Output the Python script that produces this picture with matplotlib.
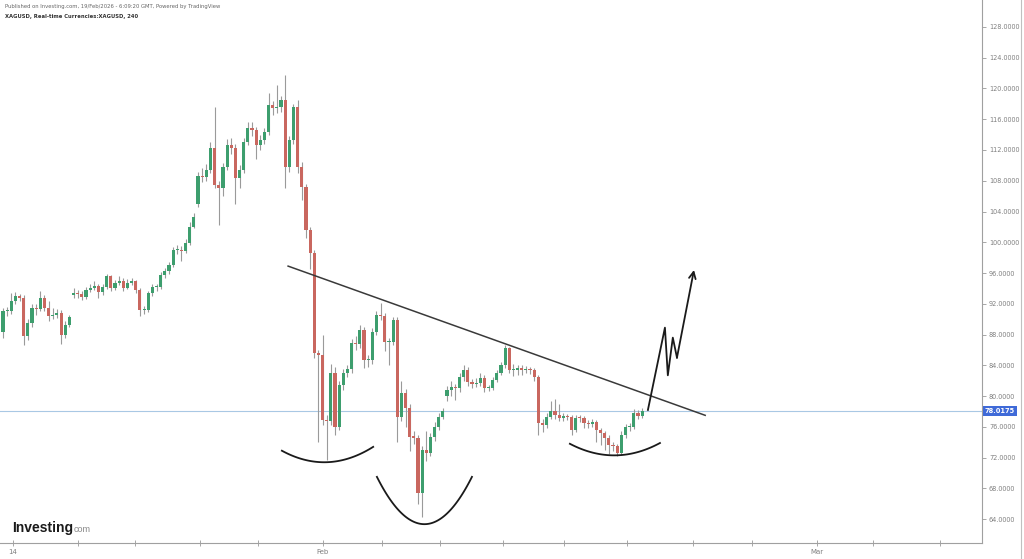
import numpy as np
import matplotlib
matplotlib.use("Agg")
import matplotlib.pyplot as plt
from matplotlib.lines import Line2D
from matplotlib.transforms import blended_transform_factory

# XAG/USD 4h candles
opens = [
    88.3, 91.0, 91.0, 92.4, 93.0, 92.8, 87.8, 89.5, 91.5, 91.3,
    92.8, 91.5, 90.4, 90.6, 90.8, 88.0, 89.3, 93.1, 93.4, 93.3,
    92.9, 93.8, 94.1, 94.3, 93.5, 94.2, 95.6, 94.1, 94.7, 95.0,
    94.1, 94.7, 94.9, 93.8, 91.2, 91.2, 93.4, 94.2, 94.2, 95.8,
    96.2, 97.1, 99.0, 99.0, 98.9, 99.9, 102.0, 105.0, 108.6, 108.5,
    109.4, 112.3, 107.5, 107.0, 109.8, 112.7, 112.3, 108.4, 109.4, 113.0,
    114.9, 114.6, 112.7, 113.3, 114.3, 117.9, 117.5, 117.6, 118.5, 109.8,
    113.3, 117.6, 109.8, 107.2, 101.6, 98.6, 85.6, 85.4, 76.9, 76.8,
    83.0, 76.0, 81.4, 83.0, 83.5, 86.9, 86.8, 88.6, 84.7, 84.7,
    88.3, 90.5, 90.4, 87.0, 87.0, 89.9, 77.3, 80.4, 78.5, 74.7,
    74.6, 67.4, 73.0, 72.6, 74.7, 76.0, 77.3, 80.0, 80.8, 81.2,
    81.0, 82.5, 83.4, 81.8, 81.6, 81.7, 82.4, 81.0, 81.1, 82.1,
    83.0, 84.0, 86.2, 83.4, 83.4, 83.6, 83.4, 83.5, 83.4, 82.5,
    76.5, 76.2, 77.3, 78.0, 77.6, 77.2, 77.4, 77.3, 75.6, 77.2,
    77.1, 76.5, 76.4, 76.6, 75.6, 75.2, 74.6, 73.6, 73.5, 72.6,
    75.0, 76.0, 76.0, 77.8, 77.4,
]
closes = [
    91.0, 91.0, 92.4, 93.0, 92.8, 87.8, 89.5, 91.5, 91.3, 92.8,
    91.5, 90.4, 90.6, 90.8, 88.0, 89.3, 90.3, 93.4, 93.3, 92.9,
    93.8, 94.1, 94.3, 93.5, 94.2, 95.6, 94.1, 94.7, 95.0, 94.1,
    94.7, 94.9, 93.8, 91.2, 91.2, 93.4, 94.2, 94.2, 95.8, 96.2,
    97.1, 99.0, 99.0, 98.9, 99.9, 102.0, 103.3, 108.6, 108.5, 109.4,
    112.3, 107.5, 107.0, 109.8, 112.7, 112.3, 108.4, 109.4, 113.0, 114.9,
    114.6, 112.7, 113.3, 114.3, 117.9, 117.5, 117.6, 118.5, 109.8, 113.3,
    117.6, 109.8, 107.2, 101.6, 98.6, 85.6, 85.4, 76.9, 76.8, 83.0,
    76.0, 81.4, 83.0, 83.5, 86.9, 86.8, 88.6, 84.7, 84.7, 88.3,
    90.5, 90.4, 87.0, 87.0, 89.9, 77.3, 80.4, 78.5, 74.7, 74.6,
    67.4, 73.0, 72.6, 74.7, 76.0, 77.3, 78.0, 80.8, 81.2, 81.0,
    82.5, 83.4, 81.8, 81.6, 81.7, 82.4, 81.0, 81.1, 82.1, 83.0,
    84.0, 86.2, 83.4, 83.4, 83.6, 83.4, 83.5, 83.4, 82.5, 76.5,
    76.2, 77.3, 78.0, 77.6, 77.2, 77.4, 77.3, 75.6, 77.2, 77.1,
    76.5, 76.4, 76.6, 75.6, 75.2, 74.6, 73.6, 73.5, 72.6, 75.0,
    76.0, 76.0, 77.8, 77.4, 78.0175,
]
highs = [
    91.5, 91.6, 93.4, 93.5, 93.3, 93.2, 90.0, 92.0, 92.0, 93.6,
    93.2, 92.3, 91.5, 91.3, 91.2, 89.7, 90.6, 94.0, 93.8, 93.6,
    94.2, 94.6, 94.9, 94.6, 94.6, 95.9, 95.8, 95.1, 95.6, 95.3,
    95.2, 95.4, 95.1, 94.0, 91.7, 93.7, 94.6, 94.6, 96.1, 96.6,
    97.5, 99.4, 99.6, 99.5, 100.4, 102.6, 103.8, 109.2, 109.6, 110.2,
    113.0, 117.6, 108.0, 110.3, 113.4, 113.6, 112.8, 110.0, 113.5, 115.6,
    115.6, 115.0, 114.0, 114.8, 119.4, 118.4, 120.5, 119.0, 121.8, 113.8,
    118.0, 118.5, 110.5, 107.6, 102.0, 99.0, 86.0, 88.0, 77.5, 84.2,
    83.8, 82.0, 83.5, 84.0, 87.4, 87.8, 89.2, 89.0, 85.3, 88.8,
    91.0, 92.1, 90.8, 87.6, 90.3, 90.3, 82.0, 80.9, 79.0, 75.5,
    75.0, 73.5, 75.5, 75.2, 76.6, 77.8, 78.5, 81.3, 82.0, 81.6,
    83.0, 84.0, 83.8, 82.2, 82.3, 83.0, 82.8, 81.5, 82.5, 83.4,
    84.4, 86.7, 86.4, 84.2, 84.1, 84.0, 83.9, 83.8, 83.7, 82.8,
    77.0, 77.8, 79.3, 79.6, 79.0, 77.8, 77.7, 77.6, 77.6, 77.5,
    77.4, 76.9, 77.0, 76.9, 75.9, 75.5, 74.9, 74.0, 73.8, 75.4,
    76.4, 76.5, 78.3, 78.2, 78.4,
]
lows = [
    87.6, 90.4, 90.7, 92.0, 92.3, 86.6, 87.3, 89.0, 90.5, 91.0,
    91.0, 89.8, 90.0, 90.2, 86.8, 87.6, 89.0, 92.8, 92.8, 92.5,
    92.6, 93.5, 93.8, 92.8, 93.2, 93.9, 93.7, 93.8, 94.4, 93.7,
    93.9, 94.4, 93.4, 90.4, 90.7, 90.9, 93.0, 93.6, 93.9, 95.4,
    95.9, 96.8, 98.5, 97.6, 98.6, 99.6, 101.8, 104.6, 107.8, 108.0,
    109.0, 107.0, 102.3, 106.0, 109.4, 111.5, 105.0, 107.0, 109.0, 112.6,
    113.8, 110.8, 112.0, 112.8, 114.0, 116.5, 116.8, 117.0, 107.0, 109.2,
    112.8, 109.0, 105.5, 100.6, 96.5, 85.0, 74.0, 76.2, 71.7, 76.3,
    75.0, 75.6, 80.8, 82.5, 83.0, 86.0, 86.3, 83.6, 83.8, 84.2,
    88.0, 89.9, 85.8, 84.0, 86.6, 74.0, 76.8, 76.0, 72.8, 73.8,
    66.0, 64.3, 71.5, 72.2, 74.2, 75.6, 77.0, 79.4, 80.0, 79.5,
    80.5, 82.0, 81.3, 81.0, 81.2, 81.3, 80.5, 80.6, 80.8, 81.8,
    82.7, 83.7, 83.0, 82.6, 82.8, 82.8, 83.0, 82.9, 82.0, 75.0,
    75.3, 75.8, 77.0, 77.0, 76.8, 76.8, 76.9, 75.0, 75.3, 76.6,
    75.9, 75.8, 76.0, 74.0, 73.6, 73.0, 72.5, 72.8, 72.2, 72.3,
    74.6, 75.5, 75.7, 77.0, 77.2,
]

# axis ticks
price_ticks = list(range(64, 129, 4))
date_ticks = [2.4, 18.1, 31.8, 47.5, 61.4, 77.1, 91.3, 105.3, 120.5, 135.2,
              150.4, 166.3, 180.5, 196.1, 209.6, 225.8]
date_labels = ["14", "", "", "", "", "Feb", "", "", "", "",
               "", "", "", "Mar", "", ""]

# drawings on the chart (bar index, price)
trend_x = [68.7, 169.2]
trend_y = [96.9, 77.5]
arc_left = ([67.2, 77.6, 89.2], [72.9, 71.4, 73.4])
arc_head = ([90.1, 100.5, 113.0], [69.5, 63.4, 69.5])
arc_right = ([136.6, 146.7, 158.3], [73.8, 72.3, 73.9])
arrow_x = [155.4, 159.5, 160.2, 161.4, 162.4, 166.5]
arrow_y = [78.2, 88.9, 82.7, 87.6, 85.0, 96.4]

GREEN = "#3d9e6e"
RED = "#c9675f"
WICK = "#9a9a9a"


def draw_arc(ax, pts):
    xs, ys = pts
    coef = np.polyfit(xs, ys, 2)
    xx = np.linspace(xs[0], xs[-1], 80)
    ax.plot(xx, np.polyval(coef, xx), color="#1a1a1a", lw=1.3)


def main():
    o = np.array(opens)
    c = np.array(closes)
    h = np.array(highs)
    l = np.array(lows)
    x = np.arange(len(c))

    fig = plt.figure(figsize=(10.24, 5.59), dpi=100)
    ax = fig.add_axes([0, 16 / 559, 982 / 1024, 543 / 559])

    # candles
    up = c >= o
    colors = np.where(up, GREEN, RED)
    bottoms = np.minimum(o, c)
    heights = np.maximum(np.abs(c - o), 0.15)
    ax.vlines(x, l, h, color=WICK, lw=0.8, zorder=2)
    ax.bar(x, heights, bottom=bottoms, width=0.75, color=colors,
           linewidth=0, zorder=3)

    # last price line + label
    ax.axhline(closes[-1], color="#a9c8e4", lw=0.8, zorder=1)
    trans = blended_transform_factory(ax.transAxes, ax.transData)
    ax.text(1.003, closes[-1], f"{closes[-1]:.4f}", transform=trans,
            fontsize=4.8, color="white", fontweight="bold", va="center",
            ha="left", clip_on=False,
            bbox=dict(boxstyle="square,pad=0.3", fc="#3f6ad8", ec="none"))

    # trend line, arcs, projection arrow
    ax.plot(trend_x, trend_y, color="#3a3a3a", lw=1.1, zorder=4)
    draw_arc(ax, arc_left)
    draw_arc(ax, arc_head)
    draw_arc(ax, arc_right)
    ax.plot(arrow_x[:-1], arrow_y[:-1], color="#1a1a1a", lw=1.3, zorder=4)
    ax.annotate("", xy=(arrow_x[-1], arrow_y[-1]),
                xytext=(arrow_x[-2], arrow_y[-2]),
                arrowprops=dict(arrowstyle="->", color="#1a1a1a", lw=1.3,
                                mutation_scale=12, shrinkA=0, shrinkB=0))

    ax.set_xlim(-0.72, 235.9)
    ax.set_ylim(60.9, 131.5)

    ax.yaxis.tick_right()
    ax.set_yticks(price_ticks)
    ax.set_yticklabels([f"{v:.4f}" for v in price_ticks])
    ax.set_xticks(date_ticks)
    ax.set_xticklabels(date_labels)
    ax.tick_params(axis="both", labelsize=4.7, colors="#999999",
                   labelcolor="#808080", length=3, width=0.6, pad=2)
    ax.tick_params(axis="x", direction="inout", length=4, pad=2,
                   labelsize=5)

    for side in ["top", "left"]:
        ax.spines[side].set_visible(False)
    for side in ["right", "bottom"]:
        ax.spines[side].set_color("#a0a0a0")
        ax.spines[side].set_linewidth(0.8)

    # outer frame line on the right
    fig.add_artist(Line2D([1021 / 1024, 1021 / 1024], [0, 1],
                          color="#c0c0c0", lw=0.8))

    # header
    fig.text(0.005, 0.992,
             "Published on Investing.com, 19/Feb/2026 - 6:09:20 GMT, Powered by TradingView",
             fontsize=3.8, color="#666666", va="top", ha="left")
    fig.text(0.005, 0.975, "XAGUSD, Real-time Currencies:XAGUSD, 240",
             fontsize=3.8, color="#333333", fontweight="bold",
             va="top", ha="left")

    # logo
    fig.text(12 / 1024, 1 - 528 / 559, "Investing", fontsize=10,
             fontweight="bold", color="#1a1a1a", va="center", ha="left",
             family="Liberation Sans")
    fig.text(74 / 1024, 1 - 530 / 559, "com", fontsize=6.5,
             color="#888888", va="center", ha="left",
             family="Liberation Sans")

    fig.savefig("out.png", dpi=100, facecolor="white")


if __name__ == "__main__":
    main()
